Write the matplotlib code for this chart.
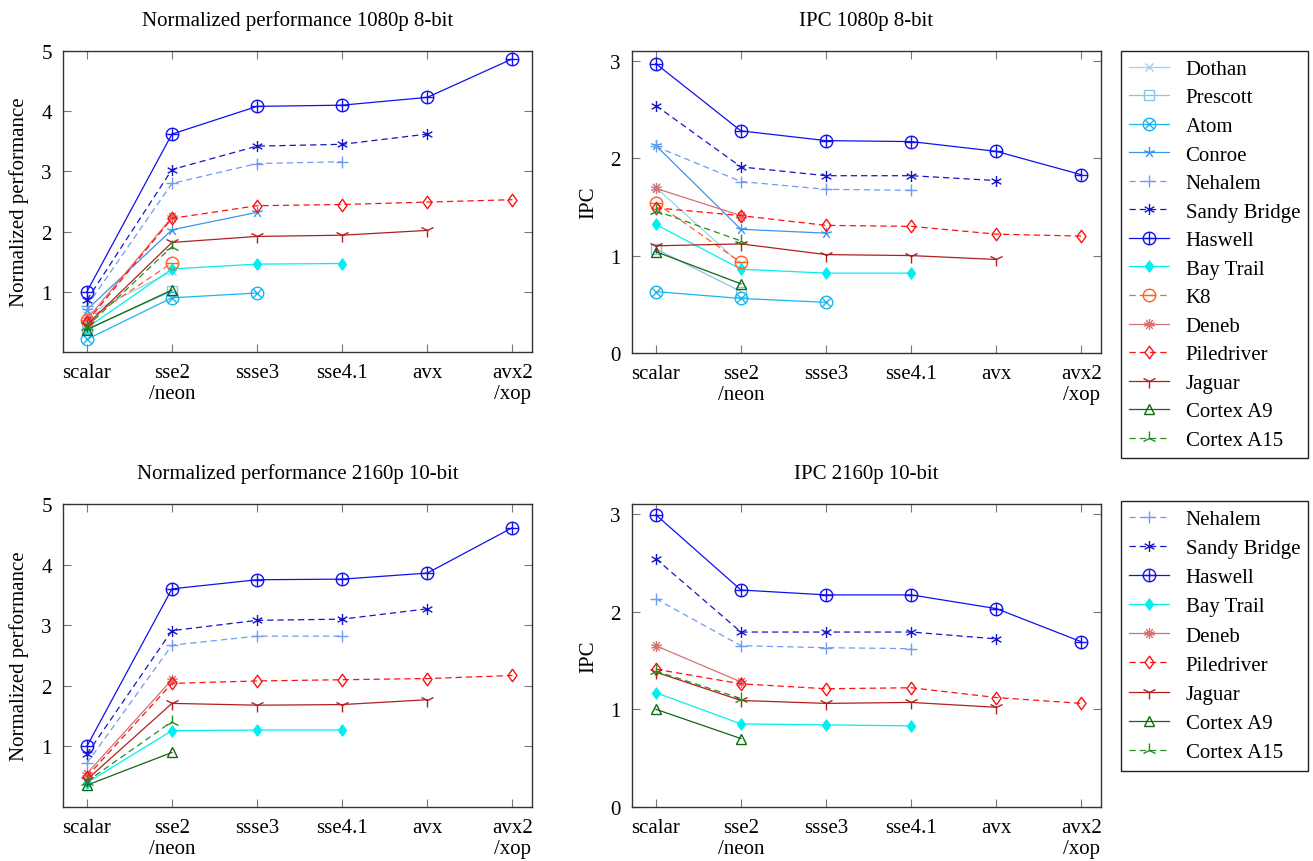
import numpy as np
import matplotlib
matplotlib.use("Agg")
import matplotlib.pyplot as plt
from matplotlib.path import Path

nan = np.nan

# ---------------- data ----------------
ext_labels = ["scalar", "sse2\n/neon", "ssse3", "sse4.1", "avx", "avx2\n/xop"]

series_top = ["Dothan", "Prescott", "Atom", "Conroe", "Nehalem", "Sandy Bridge",
              "Haswell", "Bay Trail", "K8", "Deneb", "Piledriver", "Jaguar",
              "Cortex A9", "Cortex A15"]
series_bottom = ["Nehalem", "Sandy Bridge", "Haswell", "Bay Trail", "Deneb",
                 "Piledriver", "Jaguar", "Cortex A9", "Cortex A15"]

perf_1080 = {
    "Dothan":       [0.62, 1.34, nan, nan, nan, nan],
    "Prescott":     [0.38, 1.01, nan, nan, nan, nan],
    "Atom":         [0.21, 0.90, 0.98, nan, nan, nan],
    "Conroe":       [0.70, 2.03, 2.32, nan, nan, nan],
    "Nehalem":      [0.76, 2.80, 3.13, 3.16, nan, nan],
    "Sandy Bridge": [0.86, 3.03, 3.42, 3.45, 3.62, nan],
    "Haswell":      [1.00, 3.62, 4.08, 4.10, 4.23, 4.87],
    "Bay Trail":    [0.40, 1.38, 1.46, 1.47, nan, nan],
    "K8":           [0.53, 1.48, nan, nan, nan, nan],
    "Deneb":        [0.54, 2.24, nan, nan, nan, nan],
    "Piledriver":   [0.50, 2.22, 2.43, 2.45, 2.49, 2.53],
    "Jaguar":       [0.45, 1.82, 1.92, 1.94, 2.02, nan],
    "Cortex A9":    [0.37, 1.03, nan, nan, nan, nan],
    "Cortex A15":   [0.42, 1.75, nan, nan, nan, nan],
}

ipc_1080 = {
    "Dothan":       [1.70, 0.91, nan, nan, nan, nan],
    "Prescott":     [1.07, 0.63, nan, nan, nan, nan],
    "Atom":         [0.63, 0.56, 0.52, nan, nan, nan],
    "Conroe":       [2.13, 1.27, 1.23, nan, nan, nan],
    "Nehalem":      [2.12, 1.76, 1.68, 1.67, nan, nan],
    "Sandy Bridge": [2.54, 1.91, 1.82, 1.82, 1.77, nan],
    "Haswell":      [2.97, 2.28, 2.18, 2.17, 2.07, 1.83],
    "Bay Trail":    [1.32, 0.86, 0.82, 0.82, nan, nan],
    "K8":           [1.54, 0.93, nan, nan, nan, nan],
    "Deneb":        [1.69, 1.41, nan, nan, nan, nan],
    "Piledriver":   [1.49, 1.41, 1.31, 1.30, 1.22, 1.20],
    "Jaguar":       [1.10, 1.12, 1.01, 1.00, 0.96, nan],
    "Cortex A9":    [1.04, 0.71, nan, nan, nan, nan],
    "Cortex A15":   [1.46, 1.15, nan, nan, nan, nan],
}

perf_2160 = {
    "Nehalem":      [0.72, 2.67, 2.82, 2.82, nan, nan],
    "Sandy Bridge": [0.87, 2.91, 3.08, 3.10, 3.27, nan],
    "Haswell":      [1.00, 3.60, 3.75, 3.76, 3.86, 4.61],
    "Bay Trail":    [0.40, 1.26, 1.27, 1.27, nan, nan],
    "Deneb":        [0.55, 2.10, nan, nan, nan, nan],
    "Piledriver":   [0.50, 2.04, 2.08, 2.10, 2.12, 2.17],
    "Jaguar":       [0.45, 1.71, 1.68, 1.69, 1.77, nan],
    "Cortex A9":    [0.36, 0.90, nan, nan, nan, nan],
    "Cortex A15":   [0.42, 1.41, nan, nan, nan, nan],
}

ipc_2160 = {
    "Nehalem":      [2.13, 1.65, 1.63, 1.62, nan, nan],
    "Sandy Bridge": [2.54, 1.79, 1.79, 1.79, 1.72, nan],
    "Haswell":      [2.99, 2.22, 2.17, 2.17, 2.03, 1.69],
    "Bay Trail":    [1.17, 0.85, 0.84, 0.83, nan, nan],
    "Deneb":        [1.65, 1.28, nan, nan, nan, nan],
    "Piledriver":   [1.41, 1.26, 1.21, 1.22, 1.12, 1.06],
    "Jaguar":       [1.38, 1.09, 1.06, 1.07, 1.02, nan],
    "Cortex A9":    [1.00, 0.70, nan, nan, nan, nan],
    "Cortex A15":   [1.39, 1.11, nan, nan, nan, nan],
}

# ---------------- styles ----------------
M, L = Path.MOVETO, Path.LINETO

def compound(*paths):
    return Path.make_compound_path(*paths)

def seg(p0, p1):
    return Path([p0, p1], [M, L])

circle = Path.unit_circle()
d = 0.7071
oplus = compound(circle, seg((-1, 0), (1, 0)), seg((0, -1), (0, 1)))
otimes = compound(circle, seg((-d, -d), (d, d)), seg((-d, d), (d, -d)))
ominus = compound(circle, seg((-1, 0), (1, 0)))
diamond = Path([(0, 1), (0.72, 0), (0, -1), (-0.72, 0), (0, 1)],
               [M, L, L, L, Path.CLOSEPOLY])

def asterisk(n, offset=90):
    segs = []
    for k in range(n):
        a = np.deg2rad(offset + 180.0 * k / n)
        segs.append(seg((-np.cos(a), -np.sin(a)), (np.cos(a), np.sin(a))))
    return compound(*segs)

def star5():
    segs = []
    for k in range(5):
        a = np.deg2rad(90 + 72 * k)
        segs.append(seg((0, 0), (np.cos(a), np.sin(a))))
    return compound(*segs)

dash = (0, (5, 3.2))
styles = {
    "Dothan":       dict(color="#9fd0f0", ls="-", marker="x", ms=6),
    "Prescott":     dict(color="#88c6e6", ls="-", marker="s", ms=7),
    "Atom":         dict(color="#19b6f0", ls="-", marker=otimes, ms=9),
    "Conroe":       dict(color="#3a95ee", ls="-", marker=star5(), ms=8),
    "Nehalem":      dict(color="#6e9cf0", ls=dash, marker="+", ms=9),
    "Sandy Bridge": dict(color="#1515c8", ls=dash, marker=asterisk(3), ms=8),
    "Haswell":      dict(color="#1010f0", ls="-", marker=oplus, ms=9),
    "Bay Trail":    dict(color="#00f0f0", ls="-", marker=diamond, ms=8, filled=True),
    "K8":           dict(color="#ff6020", ls=dash, marker=ominus, ms=9),
    "Deneb":        dict(color="#d87070", ls="-", marker=asterisk(5), ms=8),
    "Piledriver":   dict(color="#ff1010", ls=dash, marker=diamond, ms=9),
    "Jaguar":       dict(color="#b02020", ls="-", marker="1", ms=10),
    "Cortex A9":    dict(color="#106810", ls="-", marker="^", ms=7),
    "Cortex A15":   dict(color="#209020", ls=dash, marker="2", ms=10),
}

plt.rcParams["font.family"] = ["Liberation Serif", "DejaVu Serif"]
FS = 15

fig = plt.figure(figsize=(13.13, 8.62), dpi=100)
W, H = 1313.0, 862.0

def ax_at(x0, y0, x1, y1):
    return fig.add_axes([x0 / W, 1 - y1 / H, (x1 - x0) / W, (y1 - y0) / H])

def draw(ax, data, names, title, ylabel, ylim, yticks):
    xs = np.arange(len(ext_labels))
    handles = []
    for name in names:
        st = styles[name]
        vals = np.array(data[name], dtype=float)
        mask = ~np.isnan(vals)
        face = st["color"] if st.get("filled") else "none"
        h, = ax.plot(xs[mask], vals[mask], color=st["color"], ls=st["ls"], lw=0.9,
                     marker=st["marker"], ms=st["ms"], mfc=face, mec=st["color"],
                     mew=1.0, label=name)
        handles.append(h)
    ax.set_xlim(-0.28, 5.23)
    ax.set_ylim(*ylim)
    ax.set_yticks(yticks)
    ax.set_xticks(xs)
    ax.set_xticklabels(ext_labels, fontsize=FS, linespacing=1.1)
    ax.tick_params(axis="both", direction="in", length=6, width=0.8, color="#777777",
                   top=True, right=True, labelsize=FS, pad=8)
    for sp in ax.spines.values():
        sp.set_linewidth(1.0)
        sp.set_color("#333333")
    ax.set_title(title, fontsize=FS, pad=19)
    ax.set_ylabel(ylabel, fontsize=FS, labelpad=9)
    return handles

ax1 = ax_at(63, 52, 532, 353)
ax2 = ax_at(632, 52, 1101, 354)
ax3 = ax_at(63, 505, 532, 808)
ax4 = ax_at(632, 505, 1101, 808)

draw(ax1, perf_1080, series_top, "Normalized performance 1080p 8-bit",
     "Normalized performance", (0.0, 5.0), [1, 2, 3, 4, 5])
h2 = draw(ax2, ipc_1080, series_top, "IPC 1080p 8-bit", "IPC", (0, 3.1), [0, 1, 2, 3])
draw(ax3, perf_2160, series_bottom, "Normalized performance 2160p 10-bit",
     "Normalized performance", (0.0, 5.0), [1, 2, 3, 4, 5])
h4 = draw(ax4, ipc_2160, series_bottom, "IPC 2160p 10-bit", "IPC", (0, 3.1), [0, 1, 2, 3])

def legend(ax, handles, top_px, spacing):
    lg = ax.legend(handles=handles, loc="upper left",
                   bbox_to_anchor=(1121 / W, 1 - top_px / H),
                   bbox_transform=fig.transFigure, fontsize=FS, frameon=True,
                   fancybox=False, edgecolor="#222222", framealpha=1,
                   handlelength=1.9, handletextpad=0.8, labelspacing=spacing,
                   borderpad=0.4, borderaxespad=0)
    lg.get_frame().set_linewidth(1.0)
    return lg

legend(ax2, h2, 52, 0.43)
legend(ax4, h4, 502, 0.46)

fig.savefig("out.png", dpi=100)
